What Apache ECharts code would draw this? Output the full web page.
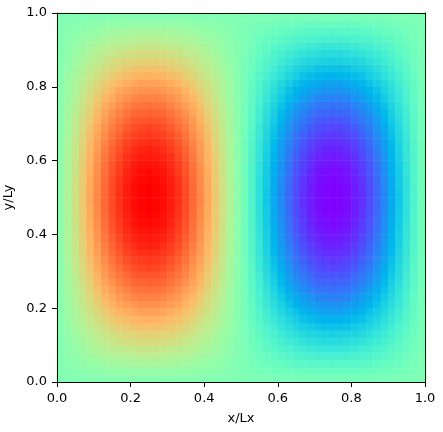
<!DOCTYPE html>
<html><head><meta charset="utf-8">
<style>html,body{margin:0;padding:0;background:#fff}#c{width:443px;height:432px}</style>
<script src="https://cdn.jsdelivr.net/npm/echarts@6/dist/echarts.min.js"></script>
</head><body><div id="c"></div>
<script>
const tickValues = [0, 0.2, 0.4, 0.6, 0.8, 1];
const xLabel = 'x/Lx';
const yLabel = 'y/Ly';
const rainbow = ['#8000ff','#6628fe','#4d4ffc','#3374f8','#1a96f2','#00b4ec','#1acfe3','#33e3da','#4df2ce','#66fcc2','#80ffb4','#99fca5','#b3f296','#cce385','#e6cf74','#ffb462','#ff964f','#ff743b','#ff4f28','#ff2814','#ff0000'];
// field values in percent, bottom row first, left column first
const heat = [
[0,1,1,1,2,2,2,3,3,3,3,3,3,3,3,3,3,3,2,2,2,1,1,1,0,0,-1,-1,-1,-2,-2,-2,-3,-3,-3,-3,-3,-3,-3,-3,-3,-3,-3,-2,-2,-2,-1,-1,-1,0],
[1,2,3,4,5,6,7,8,8,9,9,9,9,9,9,9,8,8,7,6,5,4,3,2,1,-1,-2,-3,-4,-5,-6,-7,-8,-8,-9,-9,-9,-9,-9,-9,-9,-8,-8,-7,-6,-5,-4,-3,-2,-1],
[1,3,5,7,8,10,11,13,14,15,15,15,16,15,15,15,14,13,11,10,8,7,5,3,1,-1,-3,-5,-7,-8,-10,-11,-13,-14,-15,-15,-15,-16,-15,-15,-15,-14,-13,-11,-10,-8,-7,-5,-3,-1],
[1,4,7,9,12,14,16,18,19,20,21,22,22,22,21,20,19,18,16,14,12,9,7,4,1,-1,-4,-7,-9,-12,-14,-16,-18,-19,-20,-21,-22,-22,-22,-21,-20,-19,-18,-16,-14,-12,-9,-7,-4,-1],
[2,5,9,12,15,18,20,23,24,26,27,28,28,28,27,26,24,23,20,18,15,12,9,5,2,-2,-5,-9,-12,-15,-18,-20,-23,-24,-26,-27,-28,-28,-28,-27,-26,-24,-23,-20,-18,-15,-12,-9,-5,-2],
[2,6,10,14,18,22,25,27,30,32,33,34,34,34,33,32,30,27,25,22,18,14,10,6,2,-2,-6,-10,-14,-18,-22,-25,-27,-30,-32,-33,-34,-34,-34,-33,-32,-30,-27,-25,-22,-18,-14,-10,-6,-2],
[3,7,12,17,21,25,29,32,35,37,38,39,40,39,38,37,35,32,29,25,21,17,12,7,3,-3,-7,-12,-17,-21,-25,-29,-32,-35,-37,-38,-39,-40,-39,-38,-37,-35,-32,-29,-25,-21,-17,-12,-7,-3],
[3,8,14,19,24,29,33,37,40,42,44,45,45,45,44,42,40,37,33,29,24,19,14,8,3,-3,-8,-14,-19,-24,-29,-33,-37,-40,-42,-44,-45,-45,-45,-44,-42,-40,-37,-33,-29,-24,-19,-14,-8,-3],
[3,10,16,22,27,32,37,41,45,47,49,50,51,50,49,47,45,41,37,32,27,22,16,10,3,-3,-10,-16,-22,-27,-32,-37,-41,-45,-47,-49,-50,-51,-50,-49,-47,-45,-41,-37,-32,-27,-22,-16,-10,-3],
[4,11,17,24,30,36,41,45,49,52,54,56,56,56,54,52,49,45,41,36,30,24,17,11,4,-4,-11,-17,-24,-30,-36,-41,-45,-49,-52,-54,-56,-56,-56,-54,-52,-49,-45,-41,-36,-30,-24,-17,-11,-4],
[4,11,19,26,33,39,45,50,54,57,59,61,61,61,59,57,54,50,45,39,33,26,19,11,4,-4,-11,-19,-26,-33,-39,-45,-50,-54,-57,-59,-61,-61,-61,-59,-57,-54,-50,-45,-39,-33,-26,-19,-11,-4],
[4,12,20,28,35,42,48,53,58,61,64,66,66,66,64,61,58,53,48,42,35,28,20,12,4,-4,-12,-20,-28,-35,-42,-48,-53,-58,-61,-64,-66,-66,-66,-64,-61,-58,-53,-48,-42,-35,-28,-20,-12,-4],
[4,13,22,30,38,45,52,57,62,66,69,70,71,70,69,66,62,57,52,45,38,30,22,13,4,-4,-13,-22,-30,-38,-45,-52,-57,-62,-66,-69,-70,-71,-70,-69,-66,-62,-57,-52,-45,-38,-30,-22,-13,-4],
[5,14,23,32,40,48,55,61,66,70,73,74,75,74,73,70,66,61,55,48,40,32,23,14,5,-5,-14,-23,-32,-40,-48,-55,-61,-66,-70,-73,-74,-75,-74,-73,-70,-66,-61,-55,-48,-40,-32,-23,-14,-5],
[5,15,24,34,42,50,58,64,69,73,77,78,79,78,77,73,69,64,58,50,42,34,24,15,5,-5,-15,-24,-34,-42,-50,-58,-64,-69,-73,-77,-78,-79,-78,-77,-73,-69,-64,-58,-50,-42,-34,-24,-15,-5],
[5,15,26,35,44,53,60,67,72,77,80,82,83,82,80,77,72,67,60,53,44,35,26,15,5,-5,-15,-26,-35,-44,-53,-60,-67,-72,-77,-80,-82,-83,-82,-80,-77,-72,-67,-60,-53,-44,-35,-26,-15,-5],
[5,16,27,37,46,55,63,70,75,80,83,85,86,85,83,80,75,70,63,55,46,37,27,16,5,-5,-16,-27,-37,-46,-55,-63,-70,-75,-80,-83,-85,-86,-85,-83,-80,-75,-70,-63,-55,-46,-37,-27,-16,-5],
[6,17,28,38,48,57,65,72,78,83,86,88,89,88,86,83,78,72,65,57,48,38,28,17,6,-6,-17,-28,-38,-48,-57,-65,-72,-78,-83,-86,-88,-89,-88,-86,-83,-78,-72,-65,-57,-48,-38,-28,-17,-6],
[6,17,28,39,49,58,67,74,80,85,89,91,92,91,89,85,80,74,67,58,49,39,28,17,6,-6,-17,-28,-39,-49,-58,-67,-74,-80,-85,-89,-91,-92,-91,-89,-85,-80,-74,-67,-58,-49,-39,-28,-17,-6],
[6,18,29,40,50,60,69,76,82,88,91,93,94,93,91,88,82,76,69,60,50,40,29,18,6,-6,-18,-29,-40,-50,-60,-69,-76,-82,-88,-91,-93,-94,-93,-91,-88,-82,-76,-69,-60,-50,-40,-29,-18,-6],
[6,18,30,41,51,61,70,78,84,89,93,95,96,95,93,89,84,78,70,61,51,41,30,18,6,-6,-18,-30,-41,-51,-61,-70,-78,-84,-89,-93,-95,-96,-95,-93,-89,-84,-78,-70,-61,-51,-41,-30,-18,-6],
[6,18,30,42,52,62,71,79,85,91,95,97,98,97,95,91,85,79,71,62,52,42,30,18,6,-6,-18,-30,-42,-52,-62,-71,-79,-85,-91,-95,-97,-98,-97,-95,-91,-85,-79,-71,-62,-52,-42,-30,-18,-6],
[6,18,31,42,53,63,72,80,87,92,96,98,99,98,96,92,87,80,72,63,53,42,31,18,6,-6,-18,-31,-42,-53,-63,-72,-80,-87,-92,-96,-98,-99,-98,-96,-92,-87,-80,-72,-63,-53,-42,-31,-18,-6],
[6,19,31,42,53,63,73,81,87,93,97,99,100,99,97,93,87,81,73,63,53,42,31,19,6,-6,-19,-31,-42,-53,-63,-73,-81,-87,-93,-97,-99,-100,-99,-97,-93,-87,-81,-73,-63,-53,-42,-31,-19,-6],
[6,19,31,43,54,64,73,81,88,93,97,99,100,99,97,93,88,81,73,64,54,43,31,19,6,-6,-19,-31,-43,-54,-64,-73,-81,-88,-93,-97,-99,-100,-99,-97,-93,-88,-81,-73,-64,-54,-43,-31,-19,-6],
[6,19,31,43,54,64,73,81,88,93,97,99,100,99,97,93,88,81,73,64,54,43,31,19,6,-6,-19,-31,-43,-54,-64,-73,-81,-88,-93,-97,-99,-100,-99,-97,-93,-88,-81,-73,-64,-54,-43,-31,-19,-6],
[6,19,31,42,53,63,73,81,87,93,97,99,100,99,97,93,87,81,73,63,53,42,31,19,6,-6,-19,-31,-42,-53,-63,-73,-81,-87,-93,-97,-99,-100,-99,-97,-93,-87,-81,-73,-63,-53,-42,-31,-19,-6],
[6,18,31,42,53,63,72,80,87,92,96,98,99,98,96,92,87,80,72,63,53,42,31,18,6,-6,-18,-31,-42,-53,-63,-72,-80,-87,-92,-96,-98,-99,-98,-96,-92,-87,-80,-72,-63,-53,-42,-31,-18,-6],
[6,18,30,42,52,62,71,79,85,91,95,97,98,97,95,91,85,79,71,62,52,42,30,18,6,-6,-18,-30,-42,-52,-62,-71,-79,-85,-91,-95,-97,-98,-97,-95,-91,-85,-79,-71,-62,-52,-42,-30,-18,-6],
[6,18,30,41,51,61,70,78,84,89,93,95,96,95,93,89,84,78,70,61,51,41,30,18,6,-6,-18,-30,-41,-51,-61,-70,-78,-84,-89,-93,-95,-96,-95,-93,-89,-84,-78,-70,-61,-51,-41,-30,-18,-6],
[6,18,29,40,50,60,69,76,82,88,91,93,94,93,91,88,82,76,69,60,50,40,29,18,6,-6,-18,-29,-40,-50,-60,-69,-76,-82,-88,-91,-93,-94,-93,-91,-88,-82,-76,-69,-60,-50,-40,-29,-18,-6],
[6,17,28,39,49,58,67,74,80,85,89,91,92,91,89,85,80,74,67,58,49,39,28,17,6,-6,-17,-28,-39,-49,-58,-67,-74,-80,-85,-89,-91,-92,-91,-89,-85,-80,-74,-67,-58,-49,-39,-28,-17,-6],
[6,17,28,38,48,57,65,72,78,83,86,88,89,88,86,83,78,72,65,57,48,38,28,17,6,-6,-17,-28,-38,-48,-57,-65,-72,-78,-83,-86,-88,-89,-88,-86,-83,-78,-72,-65,-57,-48,-38,-28,-17,-6],
[5,16,27,37,46,55,63,70,75,80,83,85,86,85,83,80,75,70,63,55,46,37,27,16,5,-5,-16,-27,-37,-46,-55,-63,-70,-75,-80,-83,-85,-86,-85,-83,-80,-75,-70,-63,-55,-46,-37,-27,-16,-5],
[5,15,26,35,44,53,60,67,72,77,80,82,83,82,80,77,72,67,60,53,44,35,26,15,5,-5,-15,-26,-35,-44,-53,-60,-67,-72,-77,-80,-82,-83,-82,-80,-77,-72,-67,-60,-53,-44,-35,-26,-15,-5],
[5,15,24,34,42,50,58,64,69,73,77,78,79,78,77,73,69,64,58,50,42,34,24,15,5,-5,-15,-24,-34,-42,-50,-58,-64,-69,-73,-77,-78,-79,-78,-77,-73,-69,-64,-58,-50,-42,-34,-24,-15,-5],
[5,14,23,32,40,48,55,61,66,70,73,74,75,74,73,70,66,61,55,48,40,32,23,14,5,-5,-14,-23,-32,-40,-48,-55,-61,-66,-70,-73,-74,-75,-74,-73,-70,-66,-61,-55,-48,-40,-32,-23,-14,-5],
[4,13,22,30,38,45,52,57,62,66,69,70,71,70,69,66,62,57,52,45,38,30,22,13,4,-4,-13,-22,-30,-38,-45,-52,-57,-62,-66,-69,-70,-71,-70,-69,-66,-62,-57,-52,-45,-38,-30,-22,-13,-4],
[4,12,20,28,35,42,48,53,58,61,64,66,66,66,64,61,58,53,48,42,35,28,20,12,4,-4,-12,-20,-28,-35,-42,-48,-53,-58,-61,-64,-66,-66,-66,-64,-61,-58,-53,-48,-42,-35,-28,-20,-12,-4],
[4,11,19,26,33,39,45,50,54,57,59,61,61,61,59,57,54,50,45,39,33,26,19,11,4,-4,-11,-19,-26,-33,-39,-45,-50,-54,-57,-59,-61,-61,-61,-59,-57,-54,-50,-45,-39,-33,-26,-19,-11,-4],
[4,11,17,24,30,36,41,45,49,52,54,56,56,56,54,52,49,45,41,36,30,24,17,11,4,-4,-11,-17,-24,-30,-36,-41,-45,-49,-52,-54,-56,-56,-56,-54,-52,-49,-45,-41,-36,-30,-24,-17,-11,-4],
[3,10,16,22,27,32,37,41,45,47,49,50,51,50,49,47,45,41,37,32,27,22,16,10,3,-3,-10,-16,-22,-27,-32,-37,-41,-45,-47,-49,-50,-51,-50,-49,-47,-45,-41,-37,-32,-27,-22,-16,-10,-3],
[3,8,14,19,24,29,33,37,40,42,44,45,45,45,44,42,40,37,33,29,24,19,14,8,3,-3,-8,-14,-19,-24,-29,-33,-37,-40,-42,-44,-45,-45,-45,-44,-42,-40,-37,-33,-29,-24,-19,-14,-8,-3],
[3,7,12,17,21,25,29,32,35,37,38,39,40,39,38,37,35,32,29,25,21,17,12,7,3,-3,-7,-12,-17,-21,-25,-29,-32,-35,-37,-38,-39,-40,-39,-38,-37,-35,-32,-29,-25,-21,-17,-12,-7,-3],
[2,6,10,14,18,22,25,27,30,32,33,34,34,34,33,32,30,27,25,22,18,14,10,6,2,-2,-6,-10,-14,-18,-22,-25,-27,-30,-32,-33,-34,-34,-34,-33,-32,-30,-27,-25,-22,-18,-14,-10,-6,-2],
[2,5,9,12,15,18,20,23,24,26,27,28,28,28,27,26,24,23,20,18,15,12,9,5,2,-2,-5,-9,-12,-15,-18,-20,-23,-24,-26,-27,-28,-28,-28,-27,-26,-24,-23,-20,-18,-15,-12,-9,-5,-2],
[1,4,7,9,12,14,16,18,19,20,21,22,22,22,21,20,19,18,16,14,12,9,7,4,1,-1,-4,-7,-9,-12,-14,-16,-18,-19,-20,-21,-22,-22,-22,-21,-20,-19,-18,-16,-14,-12,-9,-7,-4,-1],
[1,3,5,7,8,10,11,13,14,15,15,15,16,15,15,15,14,13,11,10,8,7,5,3,1,-1,-3,-5,-7,-8,-10,-11,-13,-14,-15,-15,-15,-16,-15,-15,-15,-14,-13,-11,-10,-8,-7,-5,-3,-1],
[1,2,3,4,5,6,7,8,8,9,9,9,9,9,9,9,8,8,7,6,5,4,3,2,1,-1,-2,-3,-4,-5,-6,-7,-8,-8,-9,-9,-9,-9,-9,-9,-9,-8,-8,-7,-6,-5,-4,-3,-2,-1],
[0,1,1,1,2,2,2,3,3,3,3,3,3,3,3,3,3,3,2,2,2,1,1,1,0,0,-1,-1,-1,-2,-2,-2,-3,-3,-3,-3,-3,-3,-3,-3,-3,-3,-3,-2,-2,-2,-1,-1,-1,0]
];
const cells = [];
heat.forEach((row, j) => row.forEach((v, i) => cells.push([i, j, v])));
const colIdx = heat[0].map((_, i) => i);
const rowIdx = heat.map((_, j) => j);
const font = 'DejaVu Sans';
const frameLine = {show:true, onZero:false, lineStyle:{color:'#000', width:1}};
const hiddenCat = (data) => ({type:'category', data, show:false, boundaryGap:true});
const shownVal = (name, pos, gap, rot) => ({
  type:'value', min:0, max:1, interval:0.2, position:pos, name, nameLocation:'middle', nameGap:gap, nameRotate:rot,
  nameTextStyle:{color:'#000', fontFamily:font, fontSize:13},
  axisLine:frameLine, axisTick:{show:true, length:5, lineStyle:{color:'#000', width:1}},
  axisLabel:{color:'#000', fontFamily:font, fontSize:13, margin:10, formatter:v=>v.toFixed(1)},
  splitLine:{show:false}, z:5
});
const frameVal = (pos) => ({type:'value', min:0, max:1, position:pos, axisLine:frameLine, axisTick:{show:false}, axisLabel:{show:false}, splitLine:{show:false}, z:5});
const chart = echarts.init(document.getElementById('c'), null, {renderer:'canvas'});
chart.setOption({
  animation:false,
  backgroundColor:'#fff',
  grid:{left:57, right:18, top:13, bottom:50, containLabel:false, outerBoundsMode:'none'},
  xAxis:[hiddenCat(colIdx), shownVal(xLabel,'bottom',30), frameVal('top')],
  yAxis:[hiddenCat(rowIdx), shownVal(yLabel,'left',39,90), frameVal('right')],
  visualMap:{show:false, type:'continuous', min:-100, max:100, dimension:2, seriesIndex:0, inRange:{color:rainbow}},
  series:[{type:'heatmap', data:cells, xAxisIndex:0, yAxisIndex:0, progressive:0, itemStyle:{borderWidth:0}, emphasis:{disabled:true}}]
});
</script></body></html>
